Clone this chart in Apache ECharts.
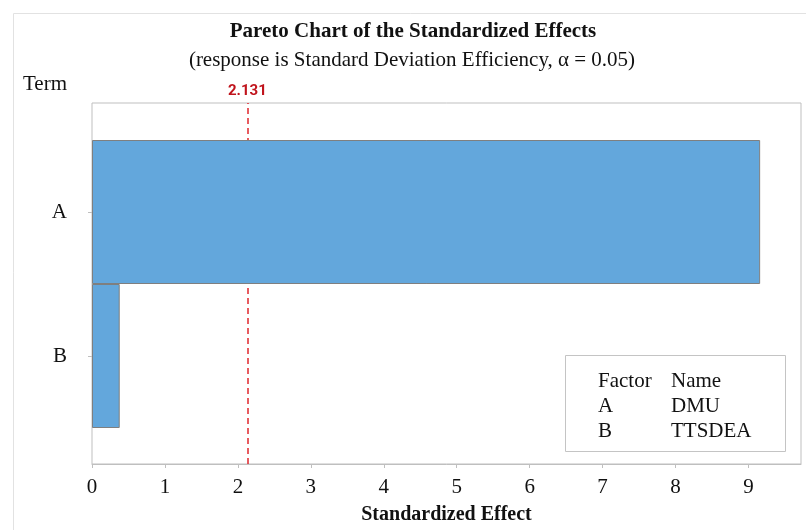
<!DOCTYPE html>
<html>
<head>
<meta charset="utf-8">
<script src="https://cdn.jsdelivr.net/npm/echarts@6/dist/echarts.min.js"></script>
<style>
  html, body { margin: 0; padding: 0; background: #fff; }
  #chart { width: 806px; height: 530px; }
</style>
</head>
<body>
<div id="chart"></div>
<script>
// data
var terms = ['A', 'B'];
var effects = [9.16, 0.38];
var xTicks = [0, 1, 2, 3, 4, 5, 6, 7, 8, 9];
var critical = 2.131;
var factorCodes = ['A', 'B'];
var factorNames = ['DMU', 'TTSDEA'];

var serif = 'Liberation Serif, Times New Roman, serif';
var xMax = 9.72;
var redLine = '#e0262c';

var myChart = echarts.init(document.getElementById('chart'));

// legend table (Factor / Name)
var legendEls = [
    {type: 'rect', shape: {x: 565.5, y: 355.5, width: 220, height: 96},
        style: {fill: '#fff', stroke: '#c4c4c4', lineWidth: 1}, z: 10},
    {type: 'text', x: 598, y: 381, style: {text: 'Factor', font: '21px ' + serif, fill: '#111', textVerticalAlign: 'middle'}, z: 11},
    {type: 'text', x: 671, y: 381, style: {text: 'Name', font: '21px ' + serif, fill: '#111', textVerticalAlign: 'middle'}, z: 11}
];
for (var i = 0; i < factorCodes.length; i++) {
    legendEls.push({type: 'text', x: 598, y: 406 + i * 25,
        style: {text: factorCodes[i], font: '21px ' + serif, fill: '#111', textVerticalAlign: 'middle'}, z: 11});
    legendEls.push({type: 'text', x: 671, y: 406 + i * 25,
        style: {text: factorNames[i], font: '21px ' + serif, fill: '#111', textVerticalAlign: 'middle'}, z: 11});
}

var option = {
    animation: false,
    backgroundColor: '#fff',
    graphic: [
        //外框
        {type: 'rect', shape: {x: 13.5, y: 13.5, width: 820, height: 540},
            style: {fill: 'none', stroke: '#e2e2e2', lineWidth: 1}, z: 0},
        {type: 'text', x: 413, y: 32,
            style: {text: 'Pareto Chart of the Standardized Effects', font: 'bold 21px ' + serif,
                fill: '#111', textAlign: 'center', textVerticalAlign: 'middle'}},
        {type: 'text', x: 412, y: 60,
            style: {text: '(response is Standard Deviation Efficiency, \u03b1 = 0.05)', font: '21px ' + serif,
                fill: '#111', textAlign: 'center', textVerticalAlign: 'middle'}},
        {type: 'text', x: 23, y: 84,
            style: {text: 'Term', font: '21px ' + serif, fill: '#111', textVerticalAlign: 'middle'}}
    ].concat(legendEls),
    grid: [
        {left: 92, top: 103, width: 709, height: 362, show: true, borderColor: '#bfbfbf', borderWidth: 1},
        {left: 92, top: 140, width: 709, height: 288}
    ],
    xAxis: [
        {
            type: 'value', gridIndex: 0, min: 0, max: xMax, interval: 1,
            name: 'Standardized Effect', nameLocation: 'middle', nameGap: 41,
            nameTextStyle: {fontFamily: serif, fontWeight: 'bold', fontSize: 20, color: '#111'},
            axisLine: {show: true, lineStyle: {color: '#bfbfbf'}},
            axisTick: {show: true, length: 4, lineStyle: {color: '#bfbfbf'}},
            axisLabel: {
                fontFamily: serif, fontSize: 21, color: '#111', margin: 13, showMaxLabel: false,
                formatter: function (v) { return xTicks.indexOf(v) >= 0 ? String(v) : ''; }
            },
            splitLine: {show: false}
        },
        {type: 'value', gridIndex: 1, min: 0, max: xMax, show: false, splitLine: {show: false}}
    ],
    yAxis: [
        {type: 'value', gridIndex: 0, min: 0, max: 1, show: false, splitLine: {show: false}},
        {
            type: 'category', gridIndex: 1, data: terms, inverse: true,
            axisLine: {show: false},
            axisTick: {show: true, alignWithLabel: true, length: 4, lineStyle: {color: '#bfbfbf'}},
            axisLabel: {fontFamily: serif, fontSize: 21, color: '#111', margin: 25}
        }
    ],
    series: [
        {
            type: 'bar', xAxisIndex: 1, yAxisIndex: 1, z: 5,
            data: effects, barCategoryGap: '0%',
            itemStyle: {color: '#63a7dc', borderColor: '#7f7f7f', borderWidth: 1}
        },
        {
            type: 'line', xAxisIndex: 0, yAxisIndex: 0, data: [], symbol: 'none', z: 2,
            itemStyle: {color: redLine},
            lineStyle: {color: redLine},
            markLine: {
                silent: true, symbol: ['none', 'none'],
                lineStyle: {color: redLine, type: [6, 4], width: 1.5, opacity: 1},
                label: {
                    position: 'end', distance: 4, formatter: String(critical),
                    color: '#c0141c', fontWeight: 'bold', fontSize: 15,
                    fontFamily: 'Liberation Sans Narrow, Roboto, sans-serif'
                },
                data: [{xAxis: critical, lineStyle: {color: redLine}}]
            }
        }
    ]
};

myChart.setOption(option);
</script>
</body>
</html>
